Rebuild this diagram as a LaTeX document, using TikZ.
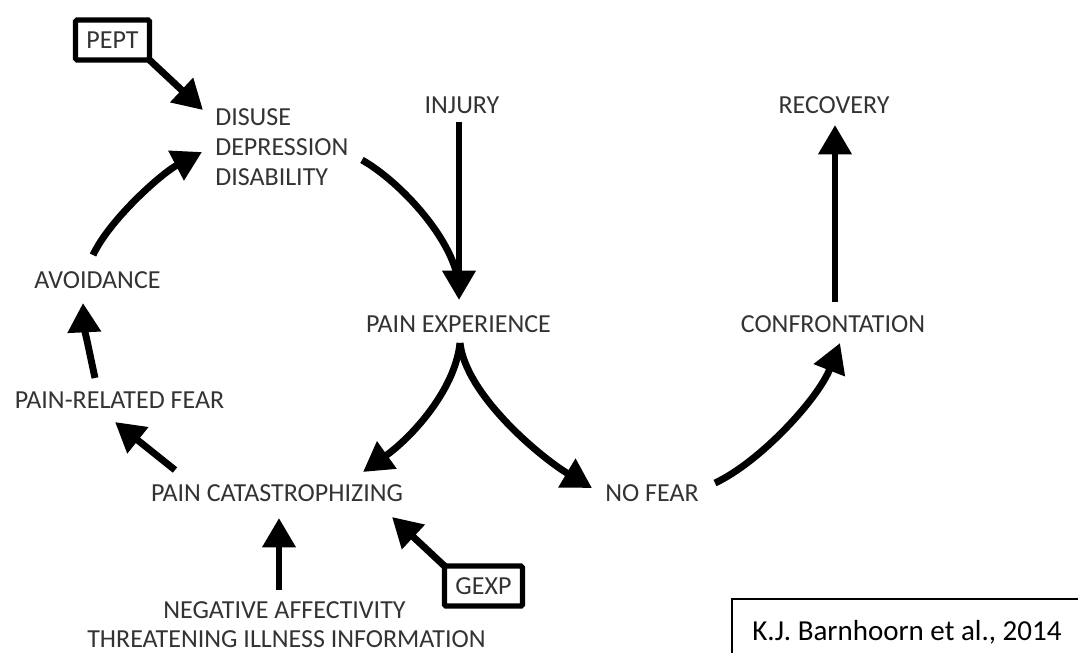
\documentclass[tikz,border=0pt]{standalone}
\usepackage{fontspec}
\setmainfont{Carlito}
\usetikzlibrary{arrows.meta}
\definecolor{txt}{rgb}{0.2,0.2,0.2}
\tikzset{
  lbl/.style={font=\fontsize{19.5pt}{23pt}\selectfont, text=txt, inner sep=0pt, anchor=base},
  lblw/.style={lbl, anchor=base west},
  tagbox/.style={draw=black, line width=3.8pt, rounded corners=1pt, font=\fontsize{19.5pt}{23pt}\selectfont, text=txt, inner sep=0pt},
  fat/.style={line width=5.2pt, -{Triangle[length=22pt,width=24pt]}},
  fatline/.style={line width=5.2pt},
  citeframe/.style={draw=black, line width=1pt}
}
\begin{document}
\begin{tikzpicture}[x=0.75pt,y=-0.75pt]
\useasboundingbox (0,0) rectangle (1078,653);
% nodes
\node[tagbox, minimum width=55.5pt, minimum height=30pt] (pept) at (112.5,40) {PEPT};
\node[tagbox, minimum width=58.5pt, minimum height=30pt] (gexp) at (483.5,586) {GEXP};
\node[lblw] (d1) at (215,125) {DISUSE};
\node[lblw] (d2) at (215,155) {DEPRESSION};
\node[lblw] (d3) at (215,185) {DISABILITY};
\node[lbl] (injury) at (462,113) {INJURY};
\node[lbl] (recovery) at (834,113) {RECOVERY};
\node[lbl] (avoid) at (97.5,288) {AVOIDANCE};
\node[lbl] (pe) at (458.5,332) {PAIN EXPERIENCE};
\node[lbl] (conf) at (833,332) {CONFRONTATION};
\node[lbl] (prf) at (119.5,408) {PAIN-RELATED FEAR};
\node[lbl] (pc) at (277,501) {PAIN CATASTROPHIZING};
\node[lblw] (nofear) at (605,501) {NO FEAR};
\node[lbl] (neg1) at (284.5,618) {NEGATIVE AFFECTIVITY};
\node[lbl] (neg2) at (286.5,647) {THREATENING ILLNESS INFORMATION};
\node[font=\fontsize{21.75pt}{25pt}\selectfont, text=black, inner sep=0pt, anchor=base west] (cite) at (752,640) {K.J. Barnhoorn et al., 2014};
\draw[citeframe] ([shift={(-20,30)}]cite.base west) |- ([shift={(40,-41)}]cite.base east);
% connectors
\draw[fat] ([shift={(-3,-3)}]pept.south east) -- ([shift={(-12,-15)}]d1.base west);
\draw[fat] ([shift={(-4.5,-33)}]avoid.base) .. controls +(17,-36) and +(-40,21) .. ([shift={(-13,-3)}]d2.base west);
\draw[fatline] ([shift={(147,5)}]d2.base west) .. controls +(39,22) and +(-3,-45) .. ([shift={(0.5,-45)}]pe.base);
\draw[fat] ([shift={(-3,9)}]injury.base) -- ([shift={(0.5,-32)}]pe.base);
\draw[fat] ([shift={(1.5,11)}]pe.base) .. controls +(-5,47) and +(49,-35) .. ([shift={(86,-29)}]pc.base);
\draw[fat] ([shift={(1.5,11)}]pe.base) .. controls +(6,52) and +(-52,-31) .. ([shift={(-13,-13)}]nofear.base west);
\draw[fat] ([shift={(110,-18)}]nofear.base west) .. controls +(45,-21) and +(-22,56) .. ([shift={(7,11)}]conf.base);
\draw[fat] ([shift={(2,-30)}]conf.base) -- ([shift={(1,12)}]recovery.base);
\draw[fat] ([shift={(-24.5,-30)}]prf.base) .. controls +(-5,-23) and +(1,22) .. ([shift={(-14.5,15)}]avoid.base);
\draw[fat] ([shift={(-102,-31)}]pc.base) -- ([shift={(-4.5,14)}]prf.base);
\draw[fat] ([shift={(-5.5,-28)}]neg1.base) -- ([shift={(2,17)}]pc.base);
\draw[fat] ([shift={(3,3)}]gexp.north west) -- ([shift={(115,16)}]pc.base);
\end{tikzpicture}
\end{document}
